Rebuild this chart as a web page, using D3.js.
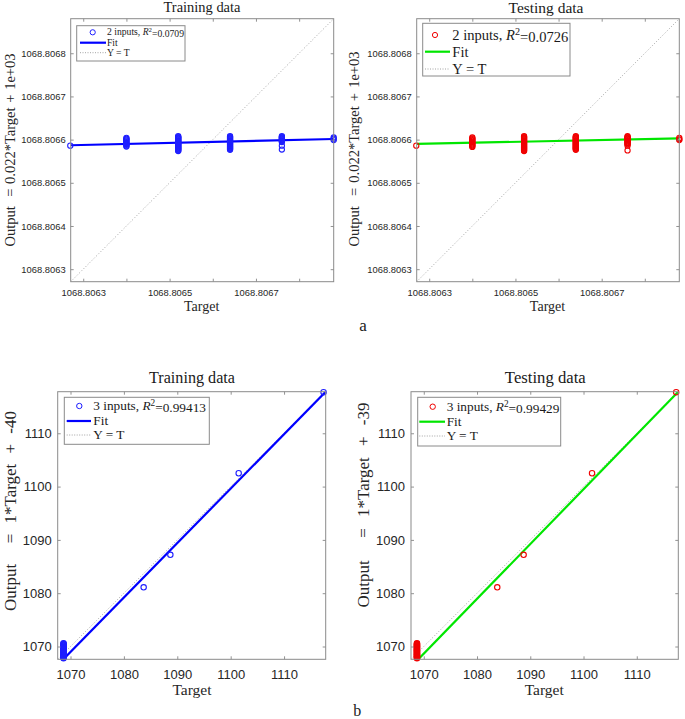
<!DOCTYPE html>
<html><head><meta charset="utf-8">
<script src="https://cdn.jsdelivr.net/npm/d3@7"></script>
<style>
body{margin:0;background:#fff}
svg text{white-space:pre}
</style>
</head><body>
<svg id="c" width="685" height="719"></svg>
<script>
// ---------------- DATA ----------------
const topTickValues = [1068.8063, 1068.8064, 1068.8065, 1068.8066, 1068.8067, 1068.8068];
const topXTickLabels = [1068.8063, 1068.8065, 1068.8067];
const topYTickLabels = [1068.8063, 1068.8064, 1068.8065, 1068.8066, 1068.8067, 1068.8068];
const bottomTickValues = [1070, 1080, 1090, 1100, 1110];
const topLimits = [1068.806271, 1068.80688];
const bottomLimits = [1067.6, 1117.8];

// (a) 2 inputs: six target levels, each with a column of outputs
const targetsA = [1068.80627, 1068.8064, 1068.80652, 1068.80664, 1068.80676, 1068.80688];
const trainOutputsA = [
  [1068.806586],
  [1068.806604, 1068.806602, 1068.8066, 1068.806598, 1068.806596, 1068.806594, 1068.806592, 1068.80659, 1068.806588, 1068.806586, 1068.806584],
  [1068.806608, 1068.8066065, 1068.806605, 1068.8066035, 1068.806602, 1068.8066005, 1068.806599, 1068.8065975, 1068.806596, 1068.8065945, 1068.806593, 1068.8065915, 1068.80659, 1068.8065885, 1068.806587, 1068.8065855, 1068.806584, 1068.8065825, 1068.806581, 1068.8065795, 1068.806578, 1068.8065765, 1068.806575, 1068.8065735],
  [1068.806608, 1068.8066065, 1068.806605, 1068.8066035, 1068.806602, 1068.8066005, 1068.806599, 1068.8065975, 1068.806596, 1068.8065945, 1068.806593, 1068.8065915, 1068.80659, 1068.8065885, 1068.806587, 1068.8065855, 1068.806584, 1068.8065825, 1068.806581, 1068.8065795, 1068.806578, 1068.8065765],
  [1068.806608, 1068.8066065, 1068.806605, 1068.8066035, 1068.806602, 1068.8066005, 1068.806599, 1068.8065975, 1068.806596, 1068.8065945, 1068.806586, 1068.806577],
  [1068.806605, 1068.806602, 1068.806599]
];
const testOutputsA = [
  [1068.806586],
  [1068.806605, 1068.806603, 1068.806601, 1068.806599, 1068.806597, 1068.806595, 1068.806593, 1068.806591, 1068.806589, 1068.806587, 1068.806585, 1068.806583],
  [1068.806608, 1068.8066065, 1068.806605, 1068.8066035, 1068.806602, 1068.8066005, 1068.806599, 1068.8065975, 1068.806596, 1068.8065945, 1068.806593, 1068.8065915, 1068.80659, 1068.8065885, 1068.806587, 1068.8065855, 1068.806584, 1068.8065825, 1068.806581, 1068.8065795, 1068.806578, 1068.8065765, 1068.806575, 1068.8065735],
  [1068.806608, 1068.8066065, 1068.806605, 1068.8066035, 1068.806602, 1068.8066005, 1068.806599, 1068.8065975, 1068.806596, 1068.8065945, 1068.806593, 1068.8065915, 1068.80659, 1068.8065885, 1068.806587, 1068.8065855, 1068.806584, 1068.8065825, 1068.806581, 1068.8065795, 1068.806578, 1068.8065765],
  [1068.806608, 1068.8066065, 1068.806605, 1068.8066035, 1068.806602, 1068.8066005, 1068.806599, 1068.8065975, 1068.806596, 1068.806594, 1068.806592, 1068.8065905, 1068.806589, 1068.806586, 1068.806575],
  [1068.806604, 1068.806601, 1068.806599]
];
const trainFitA = [[1068.806271, 1068.806587], [1068.80688, 1068.8066014]];
const testFitA  = [[1068.806271, 1068.80659],  [1068.80688, 1068.806603]];

// (b) 3 inputs: a dense column near 1068.7 plus four spread points
const trainClusterTargetB = 1068.69;
const testClusterTargetB = 1068.72;
const clusterOutputsB = [1067.8, 1067.9, 1068.0, 1068.1, 1068.2, 1068.3, 1068.4, 1068.5, 1068.6, 1068.7, 1068.8, 1068.9, 1069.0, 1069.1, 1069.2, 1069.3, 1069.4, 1069.5, 1069.6, 1069.7, 1069.8, 1069.9, 1070.0, 1070.1, 1070.2, 1070.3, 1070.4, 1070.5, 1070.6];
const trainTargetsB = [1083.7, 1088.7, 1101.5, 1117.4];
const trainOutputsB = [1081.1, 1087.2, 1102.5, 1117.7];
const testTargetsB  = [1083.8, 1088.75, 1101.6, 1117.4];
const testOutputsB  = [1081.1, 1087.2, 1102.5, 1117.7];
const trainFitB = [[1068.65, 1067.6], [1117.8, 1117.8]];
const testFitB  = [[1068.97, 1067.6], [1117.8, 1117.8]];

// ---------------- DRAWING ----------------
const svg = d3.select('#c');
const SERIF = '"Liberation Serif","Times New Roman",serif';
const SANS = '"Liberation Sans",Arial,Helvetica,sans-serif';

function fitWidth(sel, target) {
  const n = sel.node();
  const fs = parseFloat(sel.attr('font-size'));
  const w = n.getComputedTextLength();
  if (w > 0) sel.attr('font-size', (fs * target / w).toFixed(2));
  return parseFloat(sel.attr('font-size'));
}
function fitSpacing(sel, target) {
  const n = sel.node();
  const w = n.getComputedTextLength();
  const spaces = (sel.text().match(/[ \u00a0]/g) || []).length;
  if (spaces > 0 && w > 0) sel.attr('word-spacing', Math.max(0, (target - w) / spaces).toFixed(2));
}

function flattenA(targets, outputs) {
  const pts = [];
  targets.forEach((t, i) => outputs[i].forEach(o => pts.push([t, o])));
  return pts;
}
function flattenB(ct, cOut, ts, os) {
  const pts = cOut.map(o => [ct, o]);
  ts.forEach((t, i) => pts.push([t, os[i]]));
  return pts;
}

let clipId = 0;
function drawPanel(p) {
  const g = svg.append('g');
  const b = p.box;
  const x = d3.scaleLinear().domain(p.limits).range([b.x, b.x + b.w]);
  const y = d3.scaleLinear().domain(p.limits).range([b.y + b.h, b.y]);

  const cid = 'clip' + (clipId++);
  svg.append('clipPath').attr('id', cid).append('rect')
    .attr('x', b.x).attr('y', b.y).attr('width', b.w).attr('height', b.h);

  // Y = T line
  g.append('line').attr('clip-path', `url(#${cid})`)
    .attr('x1', x(p.limits[0])).attr('y1', y(p.limits[0]))
    .attr('x2', x(p.limits[1])).attr('y2', y(p.limits[1]))
    .attr('stroke', '#8c8c8c').attr('stroke-width', 0.8).attr('stroke-dasharray', '1,2');

  // Fit line
  g.append('path').attr('clip-path', `url(#${cid})`)
    .attr('d', d3.line().x(d => x(d[0])).y(d => y(d[1]))(p.fit))
    .attr('fill', 'none').attr('stroke', p.fitColor).attr('stroke-width', 2.2);

  // points
  g.append('g').selectAll('circle').data(p.points).join('circle')
    .attr('cx', d => x(d[0])).attr('cy', d => y(d[1])).attr('r', p.r)
    .attr('fill', 'none').attr('stroke', p.markColor).attr('stroke-width', 1.1);

  // axes (ticks inward on all four sides)
  const fmt = p.fmt;
  const ax = [
    d3.axisBottom(x).tickValues(p.xTicks).tickFormat(d => p.xLabels.some(v => Math.abs(v - d) < 1e-9) ? fmt(d) : ''),
    d3.axisTop(x).tickValues(p.xTicks).tickFormat(''),
    d3.axisLeft(y).tickValues(p.yTicks).tickFormat(d => p.yLabels.some(v => Math.abs(v - d) < 1e-9) ? fmt(d) : ''),
    d3.axisRight(y).tickValues(p.yTicks).tickFormat('')
  ];
  const tr = [
    `translate(0,${b.y + b.h})`, `translate(0,${b.y})`,
    `translate(${b.x},0)`, `translate(${b.x + b.w},0)`
  ];
  ax.forEach((a, i) => {
    a.tickSizeInner(-3).tickSizeOuter(0).tickPadding(i === 0 ? p.xPad : p.yPad);
    const ag = g.append('g').attr('transform', tr[i]).call(a);
    ag.select('.domain').remove();
    ag.selectAll('line').attr('stroke', '#777').attr('stroke-width', 0.8);
    ag.selectAll('text').attr('font-family', SANS).attr('font-size', p.tickFs).attr('fill', '#262626');
  });

  // box
  g.append('rect').attr('x', b.x).attr('y', b.y).attr('width', b.w).attr('height', b.h)
    .attr('fill', 'none').attr('stroke', '#8a8a8a').attr('stroke-width', 1);

  // title
  const t = g.append('text').attr('x', p.title.x).attr('y', p.title.y).attr('text-anchor', 'middle')
    .attr('font-family', SERIF).attr('font-size', 14).attr('fill', '#1a1a1a').text(p.title.text);
  fitWidth(t, p.title.w);

  // x label
  g.append('text').attr('x', p.xl.x).attr('y', p.xl.y).attr('text-anchor', 'middle')
    .attr('font-family', SERIF).attr('font-size', p.xl.fs).attr('fill', '#262626').text('Target');

  // y label
  const yl = g.append('text').attr('transform', `translate(${p.yl.x},${p.yl.y}) rotate(-90)`)
    .attr('text-anchor', 'middle').attr('dominant-baseline', 'central')
    .attr('font-family', SERIF).attr('font-size', p.yl.fs).attr('fill', '#262626').text(p.yl.text);
  fitSpacing(yl, p.yl.w);

  // legend
  const L = p.legend;
  const lg = g.append('g');
  lg.append('rect').attr('x', L.x).attr('y', L.y).attr('width', L.w).attr('height', L.h)
    .attr('fill', '#fff').attr('stroke', '#8a8a8a').attr('stroke-width', 1);
  const t1 = lg.append('text').attr('x', L.tx).attr('y', L.rows[0])
    .attr('font-family', SERIF).attr('font-size', 12).attr('fill', '#1a1a1a');
  t1.append('tspan').text(L.label + ', ');
  t1.append('tspan').attr('font-style', 'italic').text('R');
  t1.append('tspan').attr('font-size', '70%').attr('dy', '-0.45em').text('2');
  t1.append('tspan').attr('dy', '0.45em').text('=' + L.r2);
  const fs = fitWidth(t1, L.tw);
  t1.attr('dy', (0.33 * fs).toFixed(2));
  lg.append('circle').attr('cx', L.mx).attr('cy', L.rows[0]).attr('r', p.r)
    .attr('fill', 'none').attr('stroke', p.markColor).attr('stroke-width', 1);
  lg.append('line').attr('x1', L.lx[0]).attr('x2', L.lx[1]).attr('y1', L.rows[1]).attr('y2', L.rows[1])
    .attr('stroke', p.fitColor).attr('stroke-width', 2.2);
  lg.append('text').attr('x', L.tx).attr('y', L.rows[1]).attr('dy', (0.33 * fs).toFixed(2))
    .attr('font-family', SERIF).attr('font-size', fs).attr('fill', '#1a1a1a').text('Fit');
  lg.append('line').attr('x1', L.lx[0]).attr('x2', L.lx[1]).attr('y1', L.rows[2]).attr('y2', L.rows[2])
    .attr('stroke', '#8c8c8c').attr('stroke-width', 0.8).attr('stroke-dasharray', '1,1.5');
  lg.append('text').attr('x', L.tx).attr('y', L.rows[2]).attr('dy', (0.33 * fs).toFixed(2))
    .attr('font-family', SERIF).attr('font-size', fs).attr('fill', '#1a1a1a').text('Y = T');
}

const fmtA = d3.format('.4f');
const fmtB = d3.format('d');

// (a) Training
drawPanel({
  box: {x: 70.7, y: 18.7, w: 263, h: 263}, limits: topLimits,
  points: flattenA(targetsA, trainOutputsA), fit: trainFitA,
  markColor: '#1f1fff', fitColor: '#0000ff', r: 2.6,
  xTicks: topTickValues, xLabels: topXTickLabels, yTicks: topYTickLabels, yLabels: topYTickLabels,
  fmt: fmtA, tickFs: 9.4, xPad: 8, yPad: 5,
  title: {text: 'Training data', x: 202, y: 12, w: 77},
  xl: {x: 201.7, y: 310.7, fs: 14},
  yl: {text: 'Output\u00a0 = 0.022*Target + 1e+03', x: 10, y: 150, w: 193, fs: 14.5},
  legend: {x: 76.7, y: 25.7, w: 108.3, h: 35.3, rows: [32.3, 42.7, 52.7], mx: 92.7, lx: [80, 106], tx: 107, tw: 77,
    label: '2 inputs', r2: '0.0709'}
});
// (a) Testing
drawPanel({
  box: {x: 416.7, y: 18.7, w: 262.6, h: 263}, limits: topLimits,
  points: flattenA(targetsA, testOutputsA), fit: testFitA,
  markColor: '#f00000', fitColor: '#00e600', r: 2.6,
  xTicks: topTickValues, xLabels: topXTickLabels, yTicks: topYTickLabels, yLabels: topYTickLabels,
  fmt: fmtA, tickFs: 9.4, xPad: 8, yPad: 5,
  title: {text: 'Testing data', x: 546, y: 13, w: 75},
  xl: {x: 547.5, y: 310.7, fs: 14},
  yl: {text: 'Output\u00a0 = 0.022*Target + 1e+03', x: 354.3, y: 149, w: 195, fs: 14.5},
  legend: {x: 422.7, y: 23.3, w: 147.3, h: 52.7, rows: [35, 51.7, 69], mx: 435, lx: [425, 450], tx: 452.3, tw: 116,
    label: '2 inputs', r2: '0.0726'}
});
// (b) Training
drawPanel({
  box: {x: 57.7, y: 391.7, w: 268, h: 267.6}, limits: bottomLimits,
  points: flattenB(trainClusterTargetB, clusterOutputsB, trainTargetsB, trainOutputsB), fit: trainFitB,
  markColor: '#1f1fff', fitColor: '#0000ff', r: 2.7,
  xTicks: bottomTickValues, xLabels: bottomTickValues, yTicks: bottomTickValues, yLabels: bottomTickValues,
  fmt: fmtB, tickFs: 13, xPad: 10.5, yPad: 6,
  title: {text: 'Training data', x: 192, y: 382.7, w: 86},
  xl: {x: 192, y: 695, fs: 15.5},
  yl: {text: 'Output\u00a0 = 1*Target + -40', x: 10, y: 511, w: 200, fs: 17},
  legend: {x: 64.3, y: 397.3, w: 145, h: 47, rows: [406, 421, 435], mx: 79.3, lx: [66.7, 91], tx: 93.3, tw: 112.7,
    label: '3 inputs', r2: '0.99413'}
});
// (b) Testing
drawPanel({
  box: {x: 411, y: 391.7, w: 267.3, h: 267.6}, limits: bottomLimits,
  points: flattenB(testClusterTargetB, clusterOutputsB, testTargetsB, testOutputsB), fit: testFitB,
  markColor: '#f00000', fitColor: '#00e600', r: 2.7,
  xTicks: bottomTickValues, xLabels: bottomTickValues, yTicks: bottomTickValues, yLabels: bottomTickValues,
  fmt: fmtB, tickFs: 13, xPad: 10.5, yPad: 6,
  title: {text: 'Testing data', x: 545.3, y: 382.7, w: 81},
  xl: {x: 544.2, y: 694.5, fs: 15.5},
  yl: {text: 'Output\u00a0 = 1*Target + -39', x: 363.3, y: 505, w: 205, fs: 17},
  legend: {x: 417.7, y: 397.3, w: 143, h: 48.7, rows: [406.7, 421.7, 436], mx: 432.7, lx: [419.3, 445], tx: 446.7, tw: 112.7,
    label: '3 inputs', r2: '0.99429'}
});

// sub-figure letters
svg.append('text').attr('x', 363).attr('y', 331).attr('text-anchor', 'middle')
  .attr('font-family', SERIF).attr('font-size', 17).attr('fill', '#1a1a1a').text('a');
svg.append('text').attr('x', 357.3).attr('y', 715.5).attr('text-anchor', 'middle')
  .attr('font-family', SERIF).attr('font-size', 16).attr('fill', '#1a1a1a').text('b');
</script>
</body></html>
